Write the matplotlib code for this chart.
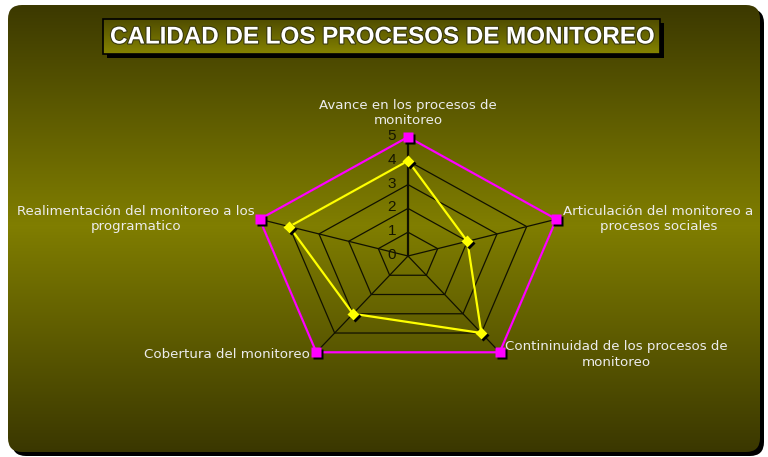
import numpy as np
import matplotlib
matplotlib.use('Agg')
import matplotlib.pyplot as plt
from matplotlib.patches import FancyBboxPatch, Rectangle
from matplotlib.transforms import offset_copy
import matplotlib.patheffects as pe

plt.rcParams['font.family'] = ['Liberation Sans', 'DejaVu Sans']

# datos
categorias = ['Avance en los procesos de\nmonitoreo',
              'Articulación del monitoreo a\nprocesos sociales',
              'Contininuidad de los procesos de\nmonitoreo',
              'Cobertura del monitoreo',
              'Realimentación del monitoreo a los\nprogramatico']
valores_max = [5, 5, 5, 5, 5]
valores = [4, 2, 4, 3, 4]
niveles = [0, 1, 2, 3, 4, 5]
titulo = 'CALIDAD DE LOS PROCESOS DE MONITOREO'

W, H = 768, 457
fig = plt.figure(figsize=(W / 100, H / 100), dpi=100)
fig.patch.set_facecolor('white')

# fondo redondeado con degradado
bg = fig.add_axes([0, 0, 1, 1])
bg.set_xlim(0, W)
bg.set_ylim(H, 0)
bg.axis('off')

sombra = FancyBboxPatch((12, 9), 752, 447, boxstyle='round,pad=0,rounding_size=14',
                        fc='black', ec='none')
bg.add_patch(sombra)
caja = FancyBboxPatch((8, 5), 752, 447, boxstyle='round,pad=0,rounding_size=14',
                      fc='none', ec='none')
bg.add_patch(caja)

filas = np.arange(H)
top = np.array([0x3c, 0x39, 0x00]) / 255
mid = np.array([0x80, 0x7e, 0x00]) / 255
bot = np.array([0x3a, 0x37, 0x00]) / 255
grad = np.zeros((H, 1, 3))
for i in filas:
    if i < 225:
        t = np.clip((i - 5) / 220, 0, 1)
        grad[i, 0] = top + (mid - top) * t
    else:
        t = np.clip((i - 225) / 227, 0, 1)
        grad[i, 0] = mid + (bot - mid) * t
im = bg.imshow(grad, extent=(0, W, H, 0), aspect='auto', zorder=1)
im.set_clip_path(caja)

# caja del título
bg.add_patch(Rectangle((107, 23), 557, 35, fc='black', ec='none', zorder=2))
tg = np.zeros((35, 1, 3))
c1 = np.array([0x50, 0x4d, 0x00]) / 255
c2 = np.array([0x85, 0x83, 0x00]) / 255
for i in range(35):
    tg[i, 0] = c1 + (c2 - c1) * i / 34
bg.imshow(tg, extent=(103, 660, 54, 19), aspect='auto', zorder=3)
bg.add_patch(Rectangle((103, 19), 557, 35, fc='none', ec='black', lw=1.2, zorder=4))
bg.text(382, 37, titulo, ha='center', va='center', color='white',
        fontsize=17.4, fontweight='bold', zorder=5,
        path_effects=[pe.withStroke(linewidth=1.6, foreground='#3a3a10')])

# radar (ejes cartesianos estirados en horizontal)
cx, cy = 408, 256
uy = 23.8
ux = 31.2
ax = fig.add_axes([0, 0, 1, 1])
ax.set_xlim(-cx / ux, (W - cx) / ux)
ax.set_ylim(-(H - cy) / uy, cy / uy)
ax.axis('off')
ax.patch.set_alpha(0)

n = len(categorias)
ang = np.arange(n) * 2 * np.pi / n

def xy(r):
    r = np.asarray(r, dtype=float)
    return r * np.sin(ang), r * np.cos(ang)

# anillos
for nv in niveles[1:]:
    x, y = xy([nv] * n)
    ax.plot(np.append(x, x[0]), np.append(y, y[0]), color='#111100', lw=0.9, zorder=2)
# radios
xm, ym = xy(valores_max)
for i in range(n):
    ax.plot([0, xm[i]], [0, ym[i]], color='#111100', lw=1.6 if i == 0 else 0.9, zorder=2)

# etiquetas de escala
for nv in niveles:
    ax.annotate(str(nv), (0, nv), xytext=(-16, 1), textcoords='offset pixels',
                ha='center', va='center', fontsize=11, color='#151500', zorder=3)

sh = offset_copy(ax.transData, fig=fig, x=2, y=-2, units='dots')

# serie máxima
x, y = xy(valores_max)
ax.plot(np.append(x, x[0]), np.append(y, y[0]), color='#ff00ff', lw=1.6, zorder=4)
ax.plot(x, y, 's', ms=7.5, color='black', mec='none', transform=sh, zorder=5)
ax.plot(x, y, 's', ms=7.5, color='#ff00ff', mec='none', zorder=6)

# serie de valores
x, y = xy(valores)
ax.plot(np.append(x, x[0]), np.append(y, y[0]), color='#ffff00', lw=1.6, zorder=4)
ax.plot(x, y, 'D', ms=6, color='black', mec='none', transform=sh, zorder=5)
ax.plot(x, y, 'D', ms=6, color='#ffff00', mec='none', zorder=6)

# etiquetas de categorías
xm, ym = xy(valores_max)
opciones = [((0, 10), 'center', 'bottom'),
            ((7, 0), 'left', 'center'),
            ((5, -2), 'left', 'center'),
            ((-6, -2), 'right', 'center'),
            ((-5, 0), 'right', 'center')]
for i, cat in enumerate(categorias):
    off, ha, va = opciones[i]
    ax.annotate(cat, (xm[i], ym[i]), xytext=off, textcoords='offset pixels',
                ha=ha, va=va, multialignment='center', fontsize=9.6,
                family='DejaVu Sans', color='#ececec', zorder=7, linespacing=1.25)

fig.savefig('out.png', dpi=100)
